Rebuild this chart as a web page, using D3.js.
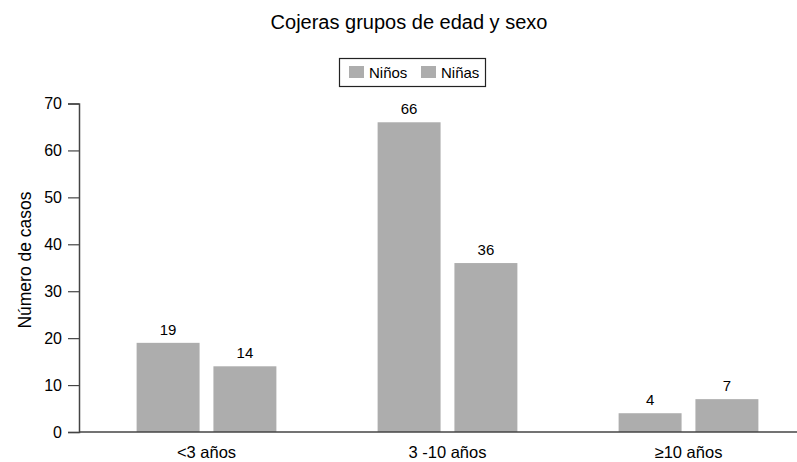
<!DOCTYPE html>
<html>
<head>
<meta charset="utf-8">
<script src="https://cdn.jsdelivr.net/npm/d3@7"></script>
<style>
    body { margin: 0; background: #fff; }
    svg { font-family: "Liberation Sans", Arial, sans-serif; }
</style>
</head>
<body>
<svg width="797" height="462"></svg>
<script>
// Datos del gráfico
const grupos = ["<3 años", "3 -10 años", "≥10 años"];
const series = ["Niños", "Niñas"];
const ninos = [19, 66, 4];
const ninas = [14, 36, 7];
const ticksY = [0, 10, 20, 30, 40, 50, 60, 70];

const color = '#adadad';
const svg = d3.select("svg");

// Escalas
const x0 = d3.scaleBand()
    .domain(grupos)
    .range([86, 809])
    .paddingInner(0.42)
    .paddingOuter(0.21);

const x1 = d3.scaleBand()
    .domain(series)
    .range([0, x0.bandwidth()])
    .paddingInner(0.18);

const y = d3.scaleLinear()
    .domain([0, 70])
    .range([432, 103.5]);

// Título
svg.append("text")
    .attr("x", 409)
    .attr("y", 29)
    .attr("text-anchor", "middle")
    .style("font-size", "20px")
    .text("Cojeras grupos de edad y sexo");

// Barras
const datos = grupos.map((g, i) => ({ grupo: g, valores: [ninos[i], ninas[i]] }));

const g = svg.append("g")
    .selectAll("g")
    .data(datos)
    .enter()
    .append("g")
    .attr("transform", d => `translate(${x0(d.grupo)},0)`);

g.selectAll("rect")
    .data(d => d.valores.map((v, j) => ({ serie: series[j], valor: v })))
    .enter()
    .append("rect")
    .attr("x", d => x1(d.serie))
    .attr("y", d => y(d.valor))
    .attr("width", x1.bandwidth())
    .attr("height", d => y(0) - y(d.valor))
    .style("fill", color);

// Etiquetas de valor
g.selectAll("text")
    .data(d => d.valores.map((v, j) => ({ serie: series[j], valor: v })))
    .enter()
    .append("text")
    .attr("x", d => x1(d.serie) + x1.bandwidth() / 2)
    .attr("y", d => y(d.valor) - 8)
    .attr("text-anchor", "middle")
    .style("font-size", "15px")
    .text(d => d.valor);

// Eje Y
const ejeY = svg.append("g")
    .attr("transform", "translate(79,0)")
    .call(d3.axisLeft(y).tickValues(ticksY).tickSize(11).tickPadding(6));
ejeY.select(".domain").attr("stroke", "#444").attr("stroke-width", 1.5);
ejeY.selectAll(".tick line").attr("stroke", "#444").attr("stroke-width", 1.2);
ejeY.selectAll(".tick text")
    .style("font-size", "16px")
    .style("font-family", "'Liberation Sans', Arial, sans-serif")
    .attr("fill", "#000");

// Eje X
svg.append("line")
    .attr("x1", 79).attr("x2", 797)
    .attr("y1", y(0)).attr("y2", y(0))
    .attr("stroke", "#444")
    .attr("stroke-width", 1.5);

svg.append("g")
    .selectAll("text")
    .data(grupos)
    .enter()
    .append("text")
    .attr("x", d => x0(d) + x0.bandwidth() / 2)
    .attr("y", 458)
    .attr("text-anchor", "middle")
    .style("font-size", "16.5px")
    .text(d => d);

// Título eje Y
svg.append("text")
    .attr("transform", "translate(31,260) rotate(-90)")
    .attr("text-anchor", "middle")
    .style("font-size", "17.5px")
    .text("Número de casos");

// Leyenda
const leyenda = svg.append("g");
leyenda.append("rect")
    .attr("x", 339.5).attr("y", 58.5)
    .attr("width", 146).attr("height", 28)
    .style("fill", "none")
    .style("stroke", "#222")
    .style("stroke-width", 1.2);

const posLeyenda = [349, 421];
series.forEach((s, i) => {
    leyenda.append("rect")
        .attr("x", posLeyenda[i]).attr("y", 66)
        .attr("width", 15).attr("height", 12)
        .style("fill", color);
    leyenda.append("text")
        .attr("x", posLeyenda[i] + 20)
        .attr("y", 78)
        .style("font-size", "15px")
        .text(s);
});
</script>
</body>
</html>
